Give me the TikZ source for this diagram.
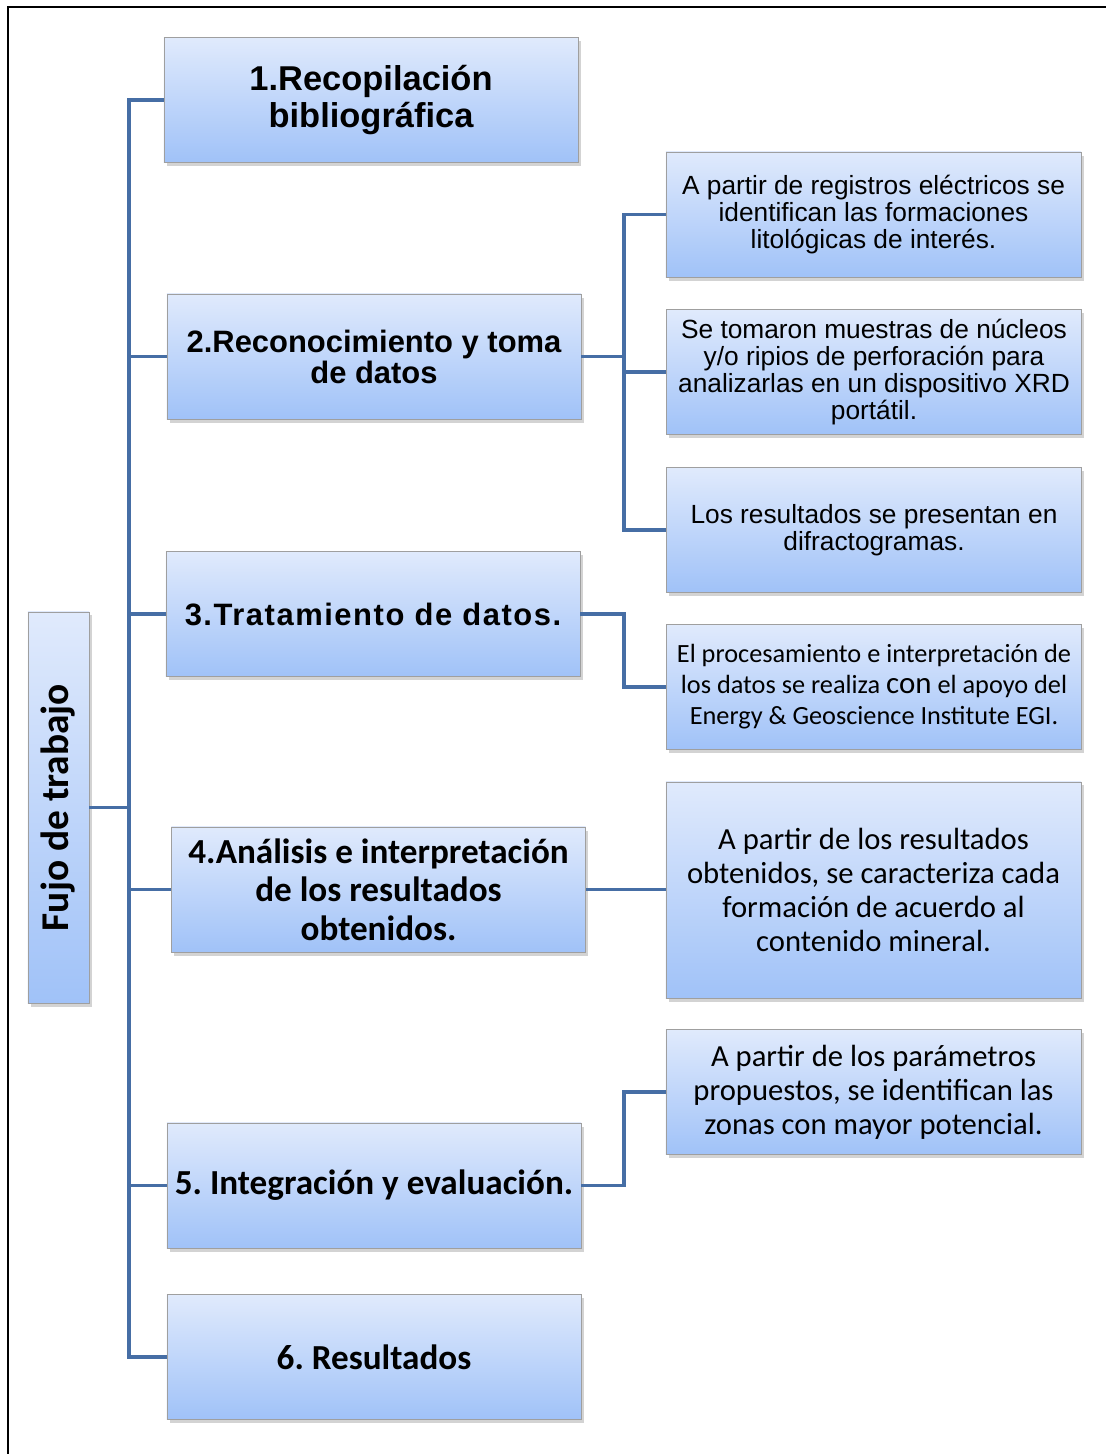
\documentclass[tikz,border=0pt]{standalone}
\usepackage{fontspec}
\setmainfont{Liberation Sans}
\newfontfamily\calib{Carlito}
\usepackage{graphicx}
\usepackage{tikz}
\usetikzlibrary{shadows}
\definecolor{linkblue}{RGB}{70,110,165}
\definecolor{boxtop}{RGB}{224,234,252}
\definecolor{boxbot}{RGB}{160,194,248}
\frenchspacing

\begin{document}
\begin{tikzpicture}[
  x=0.025cm, y=-0.025cm,
  link/.style={draw=linkblue, line width=2.8pt},
  card/.style={draw=gray!75, line width=0.6pt, top color=boxtop, bottom color=boxbot,
    drop shadow={shadow xshift=2pt, shadow yshift=-2.5pt, opacity=0.35},
    align=center, inner sep=2pt},
  stage/.style={card, minimum width=10.35cm, minimum height=3.125cm},
  detail/.style={card, minimum width=10.375cm, minimum height=3.125cm},
  arialhead/.style={font=\fontsize{24.5}{26.3}\selectfont\bfseries},
  arialsub/.style={font=\fontsize{22}{22}\selectfont\bfseries},
  calibhead/.style={font=\calib\fontsize{25}{27.4}\selectfont\bfseries},
  arialnote/.style={font=\fontsize{18.7}{19.4}\selectfont},
  calibnote/.style={font=\calib\fontsize{18.7}{22}\selectfont},
  calibbig/.style={font=\calib\fontsize{21.8}{24.2}\selectfont}
]
\useasboundingbox (0,0) rectangle (1106,1454);
\draw[black, line width=1.6pt] (8,1454) -- (8,7) -- (1106,7);

% left title
\node[card, minimum width=1.525cm, minimum height=9.775cm, inner sep=0pt,
  font=\calib\fontsize{28}{30}\selectfont\bfseries] (flujo) at (58.5,807.5)
  {\rotatebox{90}{Fujo de trabajo}};

% stages
\node[stage, arialhead] (b1) at (371,100) {1.Recopilación\\bibliográfica};
\node[stage, arialsub] (b2) at (374,356.5) {2.Reconocimiento y toma\\de datos};
\node[stage, arialsub] (b3) at (373,614) {\addfontfeature{LetterSpace=5}3.Tratamiento de datos.};
\node[stage, calibhead] (b4) at (378.5,889.5) {4.Análisis e interpretación\\de los resultados\\obtenidos.};
\node[stage, calibhead] (b5) at (374,1185.5) {5. Integración y evaluación.};
\node[stage, calibhead] (b6) at (374,1357) {6. Resultados};

% details
\node[detail, arialnote] (r1) at (873.5,214.5) {A partir de registros eléctricos se\\identifican las formaciones\\litológicas de interés.};
\node[detail, arialnote] (r2) at (874,372) {Se tomaron muestras de núcleos\\y/o ripios de perforación para\\analizarlas en un dispositivo XRD\\portátil.};
\node[detail, arialnote] (r3) at (874,530) {Los resultados se presentan en\\difractogramas.};
\node[detail, calibnote] (r4) at (874,687) {El procesamiento e interpretación de\\los datos se realiza {\fontsize{22}{22}\selectfont con} el apoyo del\\Energy \& Geoscience Institute EGI.};
\node[detail, calibbig, minimum height=5.4cm] (r5) at (873.5,890) {A partir de los resultados\\obtenidos, se caracteriza cada\\formación de acuerdo al\\contenido mineral.};
\node[detail, calibbig] (r6) at (873.5,1092) {A partir de los parámetros\\propuestos, se identifican las\\zonas con mayor potencial.};

% connectors
\coordinate (spine) at (129,807.5);
\coordinate (fork) at (624,0);
\draw[link] (flujo.east) -- (spine);
\foreach \b in {b1,b2,b3,b4,b5,b6}
  \draw[link] (\b.west) -| (spine);
\foreach \r in {r1,r2,r3}
  \draw[link] (b2.east) -- (b2.east -| fork) |- (\r.west);
\draw[link] (b3.east) -- (b3.east -| fork) |- (r4.west);
\draw[link] (b4.east) -- (r5.west |- b4.east);
\draw[link] (b5.east) -- (b5.east -| fork) |- (r6.west);
\end{tikzpicture}
\end{document}
